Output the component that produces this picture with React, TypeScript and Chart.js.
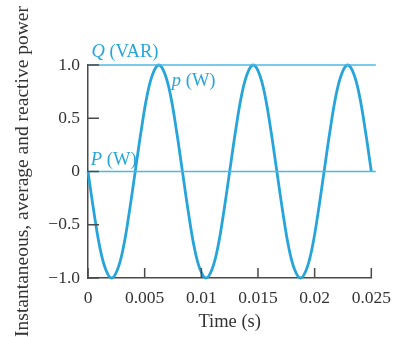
import React, { useEffect, useRef } from "react";
import { Chart, registerables } from "chart.js";

Chart.register(...registerables);

// ---- data ----
const timeValues = [
  0, 0.000521, 0.001042, 0.001563, 0.002083, 0.002604, 0.003125, 0.003646,
  0.004167, 0.004688, 0.005208, 0.005729, 0.00625, 0.006771, 0.007292, 0.007813,
  0.008333, 0.008854, 0.009375, 0.009896, 0.010417, 0.010938, 0.011458, 0.011979,
  0.0125, 0.013021, 0.013542, 0.014063, 0.014583, 0.015104, 0.015625, 0.016146,
  0.016667, 0.017188, 0.017708, 0.018229, 0.01875, 0.019271, 0.019792, 0.020313,
  0.020833, 0.021354, 0.021875, 0.022396, 0.022917, 0.023438, 0.023958, 0.024479,
  0.025,
];
const instantaneousPower = [
  0, -0.38, -0.71, -0.92, -1, -0.92, -0.71, -0.38,
  0, 0.38, 0.71, 0.92, 1, 0.92, 0.71, 0.38,
  0, -0.38, -0.71, -0.92, -1, -0.92, -0.71, -0.38,
  0, 0.38, 0.71, 0.92, 1, 0.92, 0.71, 0.38,
  0, -0.38, -0.71, -0.92, -1, -0.92, -0.71, -0.38,
  0, 0.38, 0.71, 0.92, 1, 0.92, 0.71, 0.38,
  0,
];
const flatLineTimes = [0, 0.0254];
const reactivePower = [1, 1];
const averagePower = [0, 0];

const xTickValues = [0, 0.005, 0.01, 0.015, 0.02, 0.025];
const xTickLabels = ["0", "0.005", "0.01", "0.015", "0.02", "0.025"];
const yTickValues = [-1, -0.5, 0, 0.5, 1];
const yTickLabels = ["\u22121.0", "\u22120.5", "0", "0.5", "1.0"];

const xTitle = "Time (s)";
const yTitle = "Instantaneous, average and reactive power";

const CURVE = "#27a5da";
const FLAT = "#4cb8e4";
const AXIS = "#4a4a4a";
const TEXT = "#333333";
const FONT = "'Liberation Serif', 'Times New Roman', serif";

const innerTicksPlugin = {
  id: "innerTicks",
  afterDraw(chart: any) {
    const ctx = chart.ctx;
    const xs = chart.scales.x;
    const ys = chart.scales.y;
    const area = chart.chartArea;
    ctx.save();
    ctx.strokeStyle = AXIS;
    ctx.lineWidth = 1.5;
    ctx.beginPath();
    xTickValues.forEach((v) => {
      const px = xs.getPixelForValue(v);
      ctx.moveTo(px, area.bottom);
      ctx.lineTo(px, area.bottom - 10);
    });
    yTickValues.forEach((v) => {
      const py = ys.getPixelForValue(v);
      ctx.moveTo(area.left, py);
      ctx.lineTo(area.left + 11, py);
    });
    ctx.stroke();
    ctx.restore();
  },
};

function drawMixed(ctx: any, x: number, y: number, italicPart: string, rest: string) {
  ctx.font = `italic 18.5px ${FONT}`;
  ctx.fillText(italicPart, x, y);
  const w = ctx.measureText(italicPart).width;
  ctx.font = `18.5px ${FONT}`;
  ctx.fillText(rest, x + w, y);
}

const labelsPlugin = {
  id: "seriesLabels",
  afterDraw(chart: any) {
    const ctx = chart.ctx;
    const xs = chart.scales.x;
    const ys = chart.scales.y;
    ctx.save();
    ctx.fillStyle = CURVE;
    ctx.textBaseline = "alphabetic";
    ctx.textAlign = "left";
    drawMixed(ctx, xs.getPixelForValue(0.0003), ys.getPixelForValue(1) - 8, "Q", " (VAR)");
    drawMixed(ctx, xs.getPixelForValue(0.0074), ys.getPixelForValue(1) + 21, "p", " (W)");
    drawMixed(ctx, xs.getPixelForValue(0.00025), ys.getPixelForValue(0) - 7, "P", " (W)");
    ctx.restore();
  },
};

export default function App() {
  const ref = useRef<HTMLCanvasElement | null>(null);

  useEffect(() => {
    if (!ref.current) return;
    const chart = new Chart(ref.current, {
      type: "line",
      data: {
        datasets: [
          {
            label: "Q (VAR)",
            data: flatLineTimes.map((t, i) => ({ x: t, y: reactivePower[i] })),
            borderColor: FLAT,
            borderWidth: 1.6,
            pointRadius: 0,
            clip: false as any,
          },
          {
            label: "P (W)",
            data: flatLineTimes.map((t, i) => ({ x: t, y: averagePower[i] })),
            borderColor: FLAT,
            borderWidth: 1.6,
            pointRadius: 0,
            clip: false as any,
          },
          {
            label: "p (W)",
            data: timeValues.map((t, i) => ({ x: t, y: instantaneousPower[i] })),
            borderColor: CURVE,
            borderWidth: 2.8,
            pointRadius: 0,
            tension: 0.4,
            clip: false as any,
          },
        ],
      },
      options: {
        animation: false,
        responsive: false,
        maintainAspectRatio: false,
        events: [],
        layout: { padding: { top: 65, right: 26, left: 0, bottom: 0 } },
        plugins: {
          legend: { display: false },
          tooltip: { enabled: false },
        },
        scales: {
          x: {
            type: "linear",
            min: 0,
            max: 0.025,
            afterBuildTicks: (scale: any) => {
              scale.ticks = xTickValues.map((v) => ({ value: v }));
            },
            afterFit: (scale: any) => {
              scale.height = 59;
            },
            grid: { display: false, drawTicks: false },
            border: { display: true, color: AXIS, width: 1.5 },
            ticks: {
              color: TEXT,
              font: { family: FONT, size: 17.5 },
              padding: 10,
              maxRotation: 0,
              autoSkip: false,
              callback: (v: any) => {
                const i = xTickValues.findIndex((t) => Math.abs(t - Number(v)) < 1e-9);
                return i >= 0 ? xTickLabels[i] : "";
              },
            },
            title: {
              display: true,
              text: xTitle,
              color: TEXT,
              font: { family: FONT, size: 18.5 },
              padding: { top: 0, bottom: 4 },
            },
          },
          y: {
            type: "linear",
            min: -1,
            max: 1,
            afterBuildTicks: (scale: any) => {
              scale.ticks = yTickValues.map((v) => ({ value: v }));
            },
            afterFit: (scale: any) => {
              scale.width = 88;
            },
            grid: { display: false, drawTicks: false },
            border: { display: true, color: AXIS, width: 1.5 },
            ticks: {
              color: TEXT,
              font: { family: FONT, size: 17.5 },
              padding: 8,
              autoSkip: false,
              callback: (v: any) => {
                const i = yTickValues.findIndex((t) => Math.abs(t - Number(v)) < 1e-9);
                return i >= 0 ? yTickLabels[i] : "";
              },
            },
            title: {
              display: true,
              text: yTitle,
              color: TEXT,
              font: { family: FONT, size: 19.5 },
              padding: { top: 11, bottom: 0 },
            },
          },
        },
      },
      plugins: [innerTicksPlugin, labelsPlugin],
    } as any);
    return () => chart.destroy();
  }, []);

  return (
    <div style={{ position: "fixed", left: 0, top: 0, width: 401, height: 337, background: "#fff" }}>
      <canvas ref={ref} width={401} height={337} />
    </div>
  );
}
